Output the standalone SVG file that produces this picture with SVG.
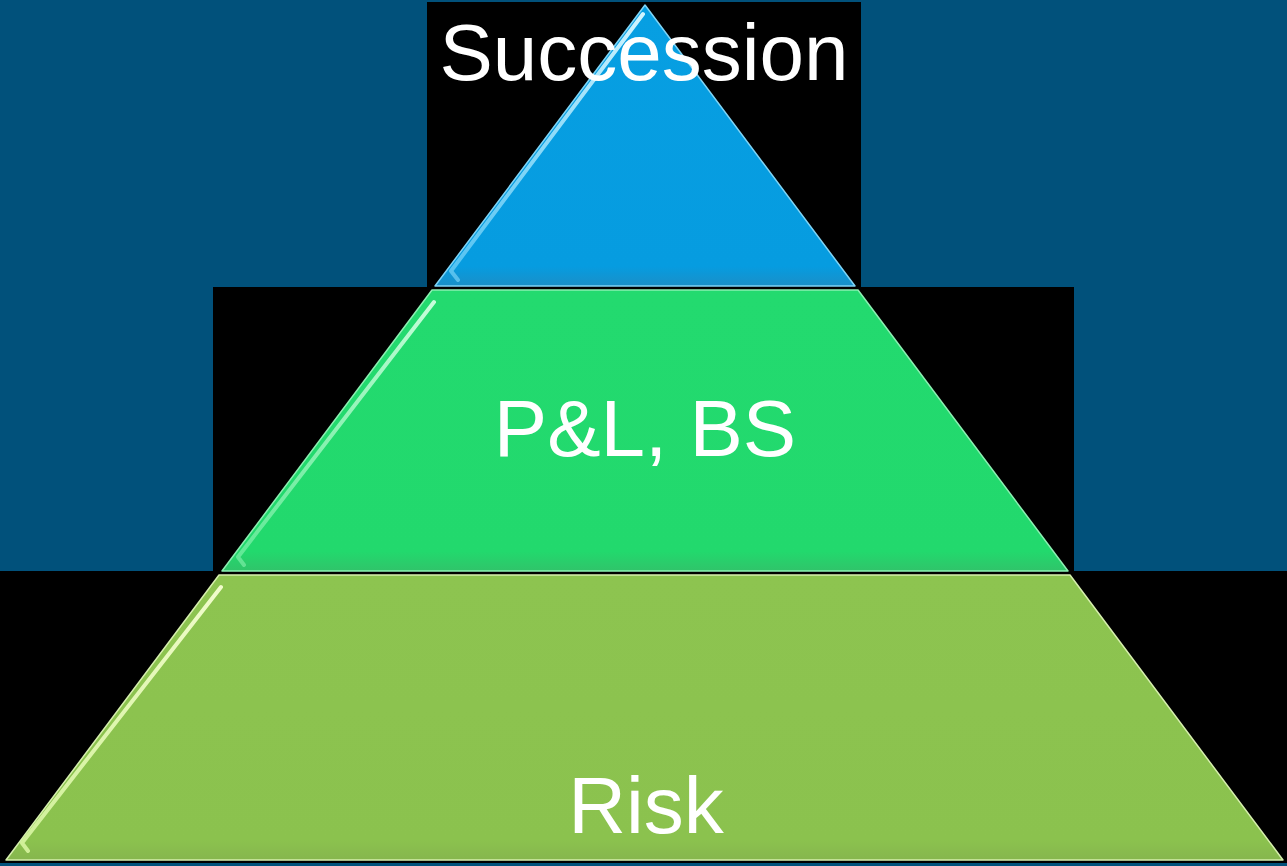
<svg xmlns="http://www.w3.org/2000/svg" width="1287" height="866" viewBox="0 0 1287 866">
  <defs>
    <style>
      .panel { fill: #000000; }
      .label { font-family: "Liberation Sans", Arial, sans-serif; font-size: 80px; fill: #ffffff; text-anchor: middle; }
      .gloss { fill: none; stroke-width: 4; stroke-linecap: round; stroke-linejoin: round; filter: url(#soft); }
    </style>
    <filter id="soft" x="-10%" y="-10%" width="120%" height="120%">
      <feGaussianBlur stdDeviation="0.7"/>
    </filter>
    <linearGradient id="shadeBlue" x1="0" y1="0" x2="0" y2="1">
      <stop offset="0" stop-color="#079fe2"/>
      <stop offset="0.93" stop-color="#069ce0"/>
      <stop offset="1" stop-color="#1a8fc8"/>
    </linearGradient>
    <linearGradient id="shadeGreen" x1="0" y1="0" x2="0" y2="1">
      <stop offset="0" stop-color="#23da6f"/>
      <stop offset="0.93" stop-color="#22d96d"/>
      <stop offset="1" stop-color="#30c46a"/>
    </linearGradient>
    <linearGradient id="shadeLime" x1="0" y1="0" x2="0" y2="1">
      <stop offset="0" stop-color="#8dc450"/>
      <stop offset="0.93" stop-color="#8bc24e"/>
      <stop offset="1" stop-color="#86b64e"/>
    </linearGradient>
    <linearGradient id="glossBlue" x1="0" y1="0" x2="0" y2="1">
      <stop offset="0" stop-color="#d2f5ff" stop-opacity="1"/>
      <stop offset="1" stop-color="#8fe0ff" stop-opacity="0.55"/>
    </linearGradient>
    <linearGradient id="glossGreen" x1="0" y1="0" x2="0" y2="1">
      <stop offset="0" stop-color="#cfffe0" stop-opacity="0.95"/>
      <stop offset="1" stop-color="#8ff5b4" stop-opacity="0.55"/>
    </linearGradient>
    <linearGradient id="glossLime" x1="0" y1="0" x2="0" y2="1">
      <stop offset="0" stop-color="#f6ffd2" stop-opacity="0.95"/>
      <stop offset="1" stop-color="#e6ffb0" stop-opacity="0.75"/>
    </linearGradient>
  </defs>

  <!-- page background -->
  <rect x="0" y="0" width="1287" height="866" fill="#01517b"/>

  <!-- black backing panels behind each tier -->
  <rect class="panel" x="427" y="2" width="434" height="285"/>
  <rect class="panel" x="213" y="287" width="861" height="284"/>
  <rect class="panel" x="0" y="571" width="1287" height="292"/>

  <!-- top tier -->
  <g id="tier-succession">
    <polygon points="645,5 855,286 435,286" fill="url(#shadeBlue)" stroke="#7fd4f6" stroke-width="1.5" stroke-linejoin="round"/>
    <polyline class="gloss" stroke="url(#glossBlue)" points="643,14 451,271 458,280"/>
    <text class="label" x="644" y="80">Succession</text>
  </g>

  <!-- middle tier -->
  <g id="tier-pl-bs">
    <polygon points="432,290 858,290 1068,571 222,571" fill="url(#shadeGreen)" stroke="#8cefb2" stroke-width="1.5" stroke-linejoin="round"/>
    <polyline class="gloss" stroke="url(#glossGreen)" points="434,302 238,557 244,565"/>
    <text class="label" x="645" y="456">P&amp;L, BS</text>
  </g>

  <!-- bottom tier -->
  <g id="tier-risk">
    <polygon points="219,575 1070,575 1283,860 6,860" fill="url(#shadeLime)" stroke="#d6efad" stroke-width="1.5" stroke-linejoin="round"/>
    <polyline class="gloss" stroke="url(#glossLime)" points="221,587 22,843 28,851"/>
    <text class="label" x="646" y="833">Risk</text>
  </g>
</svg>
